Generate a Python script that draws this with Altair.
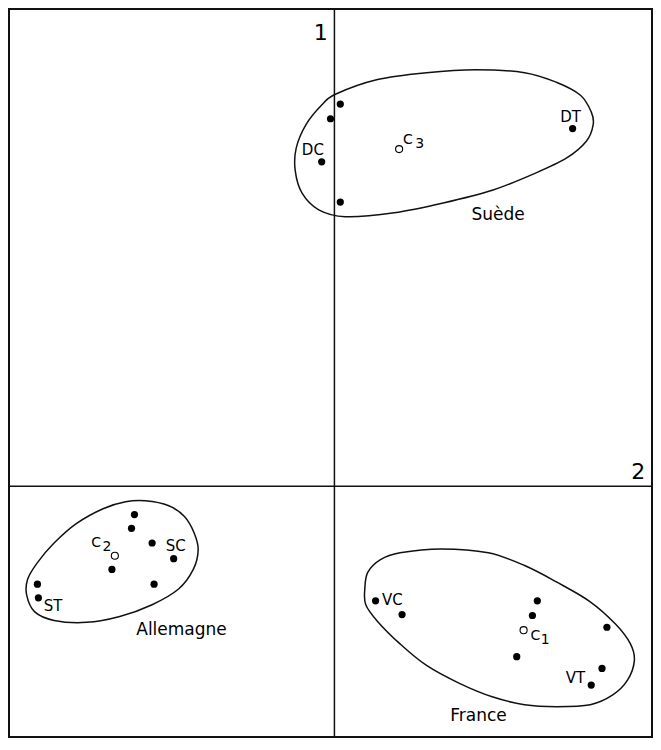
import altair as alt
import pandas as pd

# ---- data (axis 2 horizontal, axis 1 vertical) ----
# filled observation points
dot_x = [0.06, -0.04, -0.13, 0.06, 2.43,
         -2.04, -2.07, -1.86, -1.64, -2.27, -1.84, -3.03, -3.02,
         0.42, 0.69, 2.07, 2.02, 2.78, 1.86, 2.73, 2.62]
dot_y = [3.90, 3.75, 3.31, 2.90, 3.65,
         -0.29, -0.43, -0.58, -0.74, -0.85, -1.00, -1.00, -1.14,
         -1.17, -1.31, -1.17, -1.32, -1.44, -1.74, -1.86, -2.03]

# group centroids (open circles)
cen_x = [1.93, -2.24, 0.66]
cen_y = [-1.47, -0.71, 3.44]

# group outlines
sue_x = [0.01, 0.44, 0.94, 1.44, 1.94, 2.27, 2.51, 2.62, 2.64, 2.57, 2.37, 2.04,
         1.61, 1.11, 0.61, 0.11, -0.16, -0.33, -0.40, -0.39, -0.29, -0.13]
sue_y = [4.00, 4.15, 4.22, 4.25, 4.22, 4.12, 3.99, 3.82, 3.69, 3.52, 3.35, 3.19,
         3.02, 2.89, 2.79, 2.75, 2.82, 2.99, 3.22, 3.45, 3.69, 3.89]
all_x = [-1.93, -1.69, -1.53, -1.43, -1.39, -1.44, -1.59, -1.86, -2.19, -2.53,
         -2.86, -3.06, -3.14, -3.13, -3.03, -2.86, -2.63, -2.36, -2.13]
all_y = [-0.15, -0.20, -0.31, -0.48, -0.65, -0.85, -1.05, -1.21, -1.33, -1.39,
         -1.37, -1.28, -1.11, -0.95, -0.78, -0.58, -0.38, -0.23, -0.16]
fra_x = [0.31, 0.34, 0.47, 0.67, 1.09, 1.57, 1.94, 2.27, 2.61, 2.87, 3.02, 3.06,
         2.99, 2.84, 2.61, 2.27, 1.94, 1.61, 1.27, 0.94, 0.67, 0.44, 0.32]
fra_y = [-1.05, -0.88, -0.75, -0.68, -0.64, -0.68, -0.81, -0.98, -1.18, -1.41, -1.61, -1.78,
         -1.98, -2.13, -2.23, -2.25, -2.23, -2.15, -2.01, -1.83, -1.61, -1.38, -1.21]

# text labels
lab_text = ["DC", "DT", "C", "3", "Suède",
            "C", "2", "SC", "ST", "Allemagne",
            "VC", "C", "1", "VT", "France",
            "1", "2"]
lab_x = [-0.22, 2.41, 0.75, 0.87, 1.67,
         -2.43, -2.32, -1.62, -2.87, -1.56,
         0.59, 2.05, 2.15, 2.46, 1.47,
         -0.14, 3.10]
lab_y = [3.43, 3.77, 3.53, 3.49, 2.77,
         -0.58, -0.62, -0.61, -1.22, -1.47,
         -1.16, -1.53, -1.57, -1.96, -2.35,
         4.63, 0.14]
lab_size = [15, 15, 14, 14, 17,
            14, 14, 15, 15, 17,
            15, 14, 14, 15, 17,
            22, 22]

x_domain = [-3.32, 3.24]
y_domain = [-2.56, 4.87]

# ---- tables ----
dots = pd.DataFrame({"x": dot_x, "y": dot_y})
cens = pd.DataFrame({"x": cen_x, "y": cen_y})
outline_rows = []
for name, xs, ys in [("Suède", sue_x, sue_y), ("Allemagne", all_x, all_y), ("France", fra_x, fra_y)]:
    for i, (a, b) in enumerate(zip(xs, ys)):
        outline_rows.append({"g": name, "i": i, "x": a, "y": b})
outlines = pd.DataFrame(outline_rows)
labels = pd.DataFrame({"t": lab_text, "x": lab_x, "y": lab_y, "s": lab_size})
origin = pd.DataFrame({"x": [0.0], "y": [0.0]})

xs = alt.Scale(domain=x_domain, nice=False, zero=False)
ys = alt.Scale(domain=y_domain, nice=False, zero=False)
X = alt.X("x:Q", scale=xs, axis=None)
Y = alt.Y("y:Q", scale=ys, axis=None)

vrule = alt.Chart(origin).mark_rule(color="#111", strokeWidth=1.5).encode(x=X)
hrule = alt.Chart(origin).mark_rule(color="#111", strokeWidth=1.5).encode(y=Y)

shapes = alt.Chart(outlines).mark_line(
    interpolate="cardinal-closed", color="#111", strokeWidth=1.5
).encode(x=X, y=Y, detail="g:N", order="i:Q")

pts = alt.Chart(dots).mark_circle(color="#000", opacity=1, size=52).encode(x=X, y=Y)
opn = alt.Chart(cens).mark_point(
    shape="circle", filled=False, color="#000", strokeWidth=1.1, size=50, opacity=1
).encode(x=X, y=Y)

txt = alt.Chart(labels).mark_text(
    font="DejaVu Sans", color="#000", align="center", baseline="middle"
).encode(x=X, y=Y, text="t:N", size=alt.Size("s:Q", scale=None, legend=None))

chart = alt.layer(vrule, hrule, shapes, pts, opn, txt).properties(
    width=643, height=728,
    padding={"left": 1, "top": 1, "right": 1, "bottom": 1},
    autosize="none",
).configure_view(stroke="#111", strokeWidth=2)

chart.save("out.html", embed_options={"renderer": "svg", "actions": False})
